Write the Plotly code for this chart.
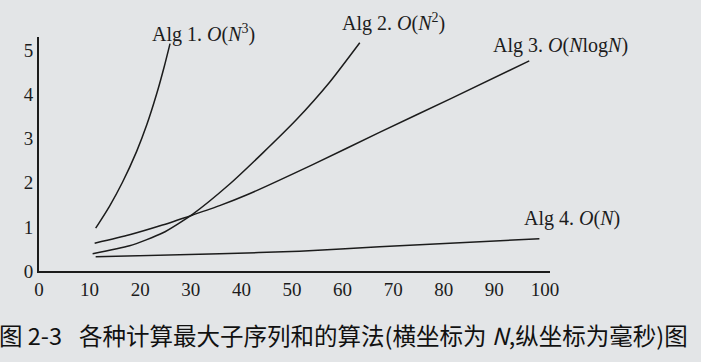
import plotly.graph_objects as go

# Data (N vs milliseconds)
alg1_n = [11.2, 13.9, 16.5, 19.3, 21.3, 23.2, 24.8, 25.9]
alg1_ms = [0.97, 1.46, 2.01, 2.71, 3.31, 3.99, 4.65, 5.15]

alg2_n = [10.6, 17.9, 24.4, 30.4, 37.7, 44.2, 50.9, 57.4, 63.4]
alg2_ms = [0.39, 0.57, 0.86, 1.29, 1.97, 2.67, 3.43, 4.27, 5.17]

alg3_n = [11.0, 17.9, 24.4, 30.4, 35.7, 41.0, 54.1, 67.3, 81.5, 96.9]
alg3_ms = [0.63, 0.82, 1.04, 1.27, 1.48, 1.72, 2.41, 3.14, 3.91, 4.76]

alg4_n = [11.2, 35.7, 51.5, 67.3, 98.9]
alg4_ms = [0.32, 0.39, 0.45, 0.55, 0.73]

x_ticks = [0, 10, 20, 30, 40, 50, 60, 70, 80, 90, 100]
y_ticks = [0, 1, 2, 3, 4, 5]

labels = [
    "Alg 1. <i>O</i>(<i>N</i><sup>3</sup>)",
    "Alg 2. <i>O</i>(<i>N</i><sup>2</sup>)",
    "Alg 3. <i>O</i>(<i>N</i>log<i>N</i>)",
    "Alg 4. <i>O</i>(<i>N</i>)",
]
# label anchors in paper coordinates
label_pos = [(0.217, 1.017), (0.589, 1.064), (0.885, 0.962), (0.945, 0.226)]

caption = "图 2-3\u2002 各种计算最大子序列和的算法(横坐标为 <i>N</i>,纵坐标为毫秒)图"

ink = "#1c1c1c"
bg = "#e3e5e7"
serif = "Liberation Serif, Times New Roman, serif"

fig = go.Figure()
for xs, ys in [(alg1_n, alg1_ms), (alg2_n, alg2_ms), (alg3_n, alg3_ms), (alg4_n, alg4_ms)]:
    fig.add_trace(go.Scatter(x=xs, y=ys, mode="lines",
                             line=dict(color=ink, width=1.5, shape="spline", smoothing=0.6),
                             showlegend=False, hoverinfo="skip"))

for text, (lx, ly) in zip(labels, label_pos):
    fig.add_annotation(x=lx, y=ly, xref="paper", yref="paper", text=text, showarrow=False,
                       xanchor="left", yanchor="middle",
                       font=dict(family=serif, size=20, color=ink))

fig.add_annotation(x=-0.0822, y=-0.2735, xref="paper", yref="paper", text=caption,
                   showarrow=False, xanchor="left", yanchor="middle",
                   font=dict(family="Noto Sans CJK SC", size=23.5, color="#111111"))

fig.update_layout(
    width=701, height=362,
    margin=dict(l=39, r=151, t=37, b=91),
    paper_bgcolor=bg, plot_bgcolor=bg,
    showlegend=False,
)
fig.update_xaxes(range=[0, 101], tickvals=x_ticks, ticktext=[str(v) for v in x_ticks],
                 showgrid=False, zeroline=False, showline=True, linecolor=ink, linewidth=2,
                 ticks="", tickfont=dict(family=serif, size=19, color=ink))
fig.update_yaxes(range=[0, 5.3], tickvals=y_ticks, ticktext=[str(v) for v in y_ticks],
                 showgrid=False, zeroline=False, showline=True, linecolor=ink, linewidth=2,
                 ticks="", tickfont=dict(family=serif, size=19, color=ink))

fig.write_html("out.html", config={"displayModeBar": False},
               post_script="document.body.style.margin='0';document.body.style.background='%s';" % bg)
